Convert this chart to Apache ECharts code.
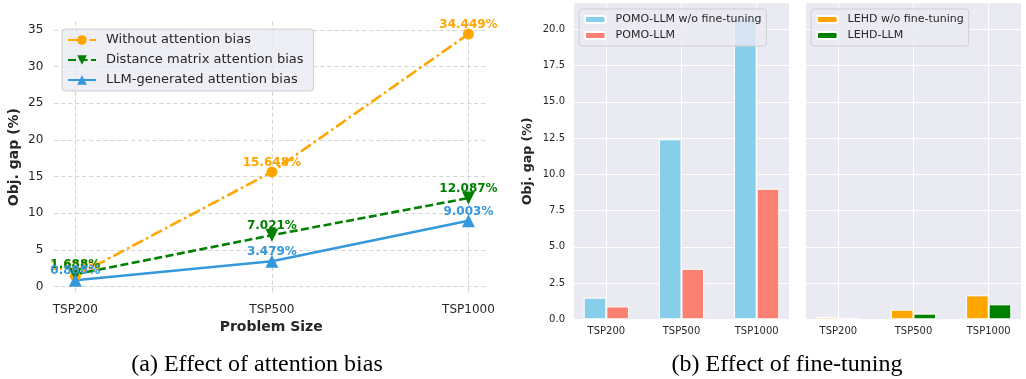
<!DOCTYPE html>
<html>
<head>
<meta charset="utf-8">
<script src="https://cdn.jsdelivr.net/npm/echarts@6/dist/echarts.min.js"></script>
<style>
html,body{margin:0;padding:0;background:#fff;}
#c{width:1026px;height:379px;}
</style>
</head>
<body>
<div id="c"></div>
<script>
// ---- data ----
const categories = ['TSP200', 'TSP500', 'TSP1000'];
const withoutBias = [1.428, 15.648, 34.449];
const distanceBias = [1.688, 7.021, 12.087];
const llmBias = [0.888, 3.479, 9.003];
const leftYTicks = [0, 5, 10, 15, 20, 25, 30, 35];

const pomoWoFT = [1.49, 12.41, 20.76];
const pomoLLM = [0.888, 3.479, 9.003];
const lehdWoFT = [0.15, 0.66, 1.65];
const lehdLLM = [0.08, 0.39, 1.03];
const rightYTicks = [0, 2.5, 5, 7.5, 10, 12.5, 15, 17.5, 20];

const catIdx = [0, 1, 2];
const pts = arr => arr.map((v, i) => [catIdx[i], v]);

const FONT = 'DejaVu Sans';
const TXT = '#262626';

function lineSeries(name, data, color, symbol, rotate, size, dash) {
  return {
    name, type: 'line', xAxisIndex: 0, yAxisIndex: 0,
    data: pts(data),
    symbol, symbolSize: size, symbolRotate: rotate,
    lineStyle: { color, width: 2.6, type: dash },
    itemStyle: { color },
    label: {
      show: true, position: 'inside', offset: [0, -9], rotate: 0,
      formatter: p => p.value[1].toFixed(3) + '%',
      color, fontFamily: FONT, fontWeight: 'bold', fontSize: 12
    },
    z: 3
  };
}
function barSeries(name, data, color, axis) {
  return {
    name, type: 'bar', xAxisIndex: axis, yAxisIndex: axis,
    data: pts(data), barWidth: 22.6, barGap: '0%',
    itemStyle: { color, borderColor: '#fff', borderWidth: 1 }
  };
}

const chart = echarts.init(document.getElementById('c'), null, { renderer: 'canvas' });

const rightGridCommon = { top: 3.3, height: 316, show: true, backgroundColor: '#EAEAF2', borderWidth: 0 };
const legendBox = { backgroundColor: 'rgba(234,234,242,0.8)', borderColor: '#cfcfcf', borderWidth: 1, borderRadius: 3 };

const option = {
  animation: false,
  backgroundColor: '#fff',
  textStyle: { fontFamily: FONT },
  grid: [
    { left: 54.3, width: 433.8, top: 21.7, height: 270.8 },
    Object.assign({ left: 574, width: 215 }, rightGridCommon),
    Object.assign({ left: 806, width: 215 }, rightGridCommon)
  ],
  xAxis: [
    {
      gridIndex: 0, type: 'value', min: -0.107, max: 2.1,
      name: 'Problem Size', nameLocation: 'middle', nameGap: 26,
      nameTextStyle: { fontFamily: FONT, fontWeight: 'bold', fontSize: 14, color: TXT },
      axisLine: { show: false }, axisTick: { show: false, customValues: catIdx },
      axisLabel: { customValues: catIdx, formatter: v => categories[v], fontFamily: FONT, fontSize: 12, color: TXT, margin: 11 },
      splitLine: { show: true, lineStyle: { color: '#d4d4d4', width: 1, type: [4, 3] } }
    },
    {
      gridIndex: 1, type: 'value', min: -0.43, max: 2.43,
      axisLine: { show: false }, axisTick: { show: false, customValues: catIdx },
      axisLabel: { customValues: catIdx, formatter: v => categories[v], fontFamily: FONT, fontSize: 10, color: TXT, margin: 7 },
      splitLine: { show: true, lineStyle: { color: '#fff', width: 1 } }
    },
    {
      gridIndex: 2, type: 'value', min: -0.43, max: 2.43,
      axisLine: { show: false }, axisTick: { show: false, customValues: catIdx },
      axisLabel: { customValues: catIdx, formatter: v => categories[v], fontFamily: FONT, fontSize: 10, color: TXT, margin: 7 },
      splitLine: { show: true, lineStyle: { color: '#fff', width: 1 } }
    }
  ],
  yAxis: [
    {
      gridIndex: 0, type: 'value', min: -0.79, max: 36.127,
      name: 'Obj. gap (%)', nameLocation: 'middle', nameGap: 33, nameRotate: 90,
      nameTextStyle: { fontFamily: FONT, fontWeight: 'bold', fontSize: 14, color: TXT },
      axisLine: { show: false }, axisTick: { show: false, customValues: leftYTicks },
      axisLabel: { customValues: leftYTicks, fontFamily: FONT, fontSize: 12, color: TXT, margin: 11 },
      splitLine: { show: true, lineStyle: { color: '#d4d4d4', width: 1, type: [4, 3] } }
    },
    {
      gridIndex: 1, type: 'value', min: 0, max: 21.79,
      name: 'Obj. gap (%)', nameLocation: 'middle', nameGap: 40, nameRotate: 90,
      nameTextStyle: { fontFamily: FONT, fontWeight: 'bold', fontSize: 12.5, color: TXT },
      axisLine: { show: false }, axisTick: { show: false, customValues: rightYTicks },
      axisLabel: { customValues: rightYTicks, formatter: v => v.toFixed(1), fontFamily: FONT, fontSize: 10, color: TXT, margin: 9 },
      splitLine: { show: true, lineStyle: { color: '#fff', width: 1 } }
    },
    {
      gridIndex: 2, type: 'value', min: 0, max: 21.79,
      axisLine: { show: false }, axisTick: { show: false, customValues: rightYTicks },
      axisLabel: { show: false },
      splitLine: { show: true, lineStyle: { color: '#fff', width: 1 } }
    }
  ],
  legend: [
    Object.assign({
      data: ['Without attention bias', 'Distance matrix attention bias', 'LLM-generated attention bias'],
      orient: 'vertical', left: 62, top: 29,
      itemWidth: 28, itemHeight: 12, itemGap: 4,
      padding: [3, 10, 3, 5],
      textStyle: { fontFamily: FONT, fontSize: 13, color: TXT, padding: [0, 0, 0, 5], lineHeight: 16 }
    }, legendBox),
    Object.assign({
      data: ['POMO-LLM w/o fine-tuning', 'POMO-LLM'],
      orient: 'vertical', left: 579, top: 9,
      itemWidth: 20.6, itemHeight: 7, itemGap: 3,
      padding: [4, 5, 4, 5],
      textStyle: { fontFamily: FONT, fontSize: 11, color: TXT, padding: [0, 0, 0, 5], lineHeight: 13 }
    }, legendBox),
    Object.assign({
      data: ['LEHD w/o fine-tuning', 'LEHD-LLM'],
      orient: 'vertical', left: 811, top: 9,
      itemWidth: 20.6, itemHeight: 7, itemGap: 3,
      padding: [4, 5, 4, 5],
      textStyle: { fontFamily: FONT, fontSize: 11, color: TXT, padding: [0, 0, 0, 5], lineHeight: 13 }
    }, legendBox)
  ],
  series: [
    lineSeries('Without attention bias', withoutBias, '#FFA500', 'circle', 0, 11, [12, 3.5, 2.5, 3.5]),
    lineSeries('Distance matrix attention bias', distanceBias, '#008000', 'triangle', 180, 13, [8, 3.5]),
    lineSeries('LLM-generated attention bias', llmBias, '#3498DB', 'triangle', 0, 13, 'solid'),
    barSeries('POMO-LLM w/o fine-tuning', pomoWoFT, '#87CEEB', 1),
    barSeries('POMO-LLM', pomoLLM, '#FA8072', 1),
    barSeries('LEHD w/o fine-tuning', lehdWoFT, '#FFA500', 2),
    barSeries('LEHD-LLM', lehdLLM, '#008000', 2)
  ],
  graphic: [
    { type: 'text', style: { text: '(a) Effect of attention bias', x: 257, y: 365, align: 'center', verticalAlign: 'middle', font: '24px "Liberation Serif"', fill: '#000' } },
    { type: 'text', style: { text: '(b) Effect of fine-tuning', x: 787, y: 365, align: 'center', verticalAlign: 'middle', font: '24px "Liberation Serif"', fill: '#000' } }
  ]
};
chart.setOption(option);
</script>
</body>
</html>
